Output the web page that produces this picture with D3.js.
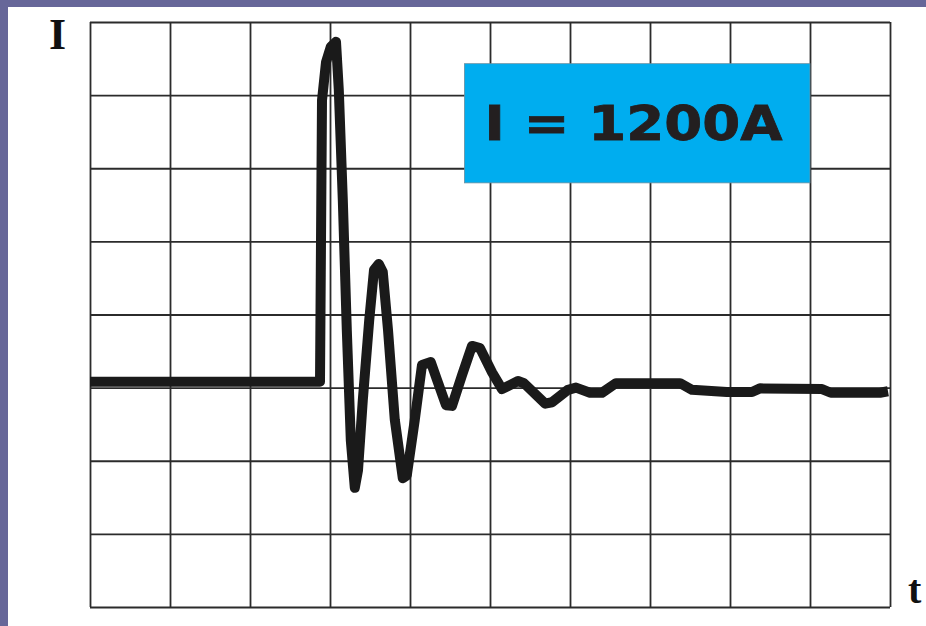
<!DOCTYPE html>
<html>
<head>
<meta charset="utf-8">
<script src="https://cdn.jsdelivr.net/npm/d3@7"></script>
<style>
  body { margin: 0; padding: 0; background: #fff; }
  svg { display: block; }
</style>
</head>
<body>
<div id="chart"></div>
<script>
// time in grid divisions, current in grid divisions (baseline is a bit above the 0 line)
var times = [0, 2.85, 2.875, 2.9, 2.95, 3.01, 3.075, 3.11, 3.16, 3.21, 3.26, 3.31, 3.35, 3.41, 3.49, 3.55,
    3.61, 3.66, 3.725, 3.81, 3.91, 3.96, 4.06, 4.15, 4.26, 4.34, 4.45, 4.525, 4.65, 4.775, 4.875,
    5.025, 5.15, 5.35, 5.425, 5.69, 5.775, 5.975, 6.075, 6.25, 6.4, 6.575, 7.375, 7.525, 7.96,
    8.275, 8.375, 9.15, 9.26, 9.875, 9.975];
var current = [0.08, 0.08, 0.08, 3.93, 4.45, 4.66, 4.73, 4.07, 2.57, 0.79, -0.72, -1.37, -1.13, -0.17, 0.92, 1.61,
    1.69, 1.58, 0.79, -0.44, -1.24, -1.20, -0.44, 0.31, 0.35, 0.10, -0.24, -0.25, 0.17, 0.57, 0.54,
    0.21, -0.02, 0.09, 0.06, -0.22, -0.20, -0.03, 0.0, -0.07, -0.07, 0.06, 0.06, -0.03, -0.06,
    -0.06, -0.01, -0.02, -0.07, -0.07, -0.05];
var xTicks = d3.range(0, 11);
var yTicks = d3.range(-3, 6);
var boxLabel = "I = 1200A";

var data = times.map(function (t, i) {
    return { t: t, v: current[i] };
});

var W = 926, H = 626;
var margin = { top: 22, right: 36, bottom: 19, left: 90 };
var width = W - margin.left - margin.right;
var height = H - margin.top - margin.bottom;

var svg = d3.select('#chart').append('svg')
    .attr("width", W)
    .attr("height", H)

// purple frame at left and top
svg.append("rect").attr("x", 0).attr("y", 0).attr("width", W).attr("height", 7).attr("fill", "#676799")
svg.append("rect").attr("x", 0).attr("y", 0).attr("width", 8).attr("height", H).attr("fill", "#676799")

var g = svg.append("g")
    .attr("transform", "translate(" + margin.left + "," + margin.top + ")")

var x = d3.scaleLinear().domain([0, 10]).range([0, width]);
var y = d3.scaleLinear().domain([-3, 5]).range([height, 0]);

//grid
g.append('g')
    .attr("class", "x-grid")
    .attr("transform", "translate(0, " + height + ")")
    .call(d3.axisBottom(x).tickValues(xTicks).tickSize(-height).tickFormat(""))
g.append('g')
    .attr("class", "y-grid")
    .call(d3.axisLeft(y).tickValues(yTicks).tickSize(-width).tickFormat(""))
g.selectAll(".domain").remove()
g.selectAll(".tick line")
    .attr("stroke", "#2b2b2b")
    .attr("stroke-width", 1.8)

// label box
g.append("rect")
    .attr("x", x(4.68))
    .attr("y", y(4.43))
    .attr("width", x(9.0) - x(4.68))
    .attr("height", y(2.8) - y(4.43))
    .attr("fill", "#00adef")
    .attr("stroke", "#6a8fa0")
    .attr("stroke-width", 0.8)

g.append("text")
    .attr("x", x(4.93))
    .attr("y", y(3.38))
    .attr("textLength", 298)
    .attr("lengthAdjust", "spacingAndGlyphs")
    .attr("font-family", "DejaVu Sans")
    .attr("font-weight", "bold")
    .attr("font-size", 48)
    .attr("fill", "#231f20")
    .attr("stroke", "#231f20")
    .attr("stroke-width", 0.8)
    .text(boxLabel)

var valueline = d3.line()
    .x(function (d) { return x(d.t); })
    .y(function (d) { return y(d.v); })

g.append("path")
    .data([data])
    .attr("class", "line-current")
    .attr("d", valueline)
    .attr("stroke", "#1a1a1a")
    .attr("fill", "none")
    .attr("stroke-width", 10)
    .attr("stroke-linejoin", "round")
    .attr("stroke-linecap", "butt")

// axis letters
svg.append("text")
    .attr("x", 49)
    .attr("y", 49)
    .attr("font-family", "Liberation Serif")
    .attr("font-weight", "bold")
    .attr("font-size", 44)
    .attr("fill", "#111")
    .text("I")

svg.append("text")
    .attr("x", 908)
    .attr("y", 603)
    .attr("font-family", "Liberation Serif")
    .attr("font-weight", "bold")
    .attr("font-size", 40)
    .attr("fill", "#111")
    .text("t")
</script>
</body>
</html>
